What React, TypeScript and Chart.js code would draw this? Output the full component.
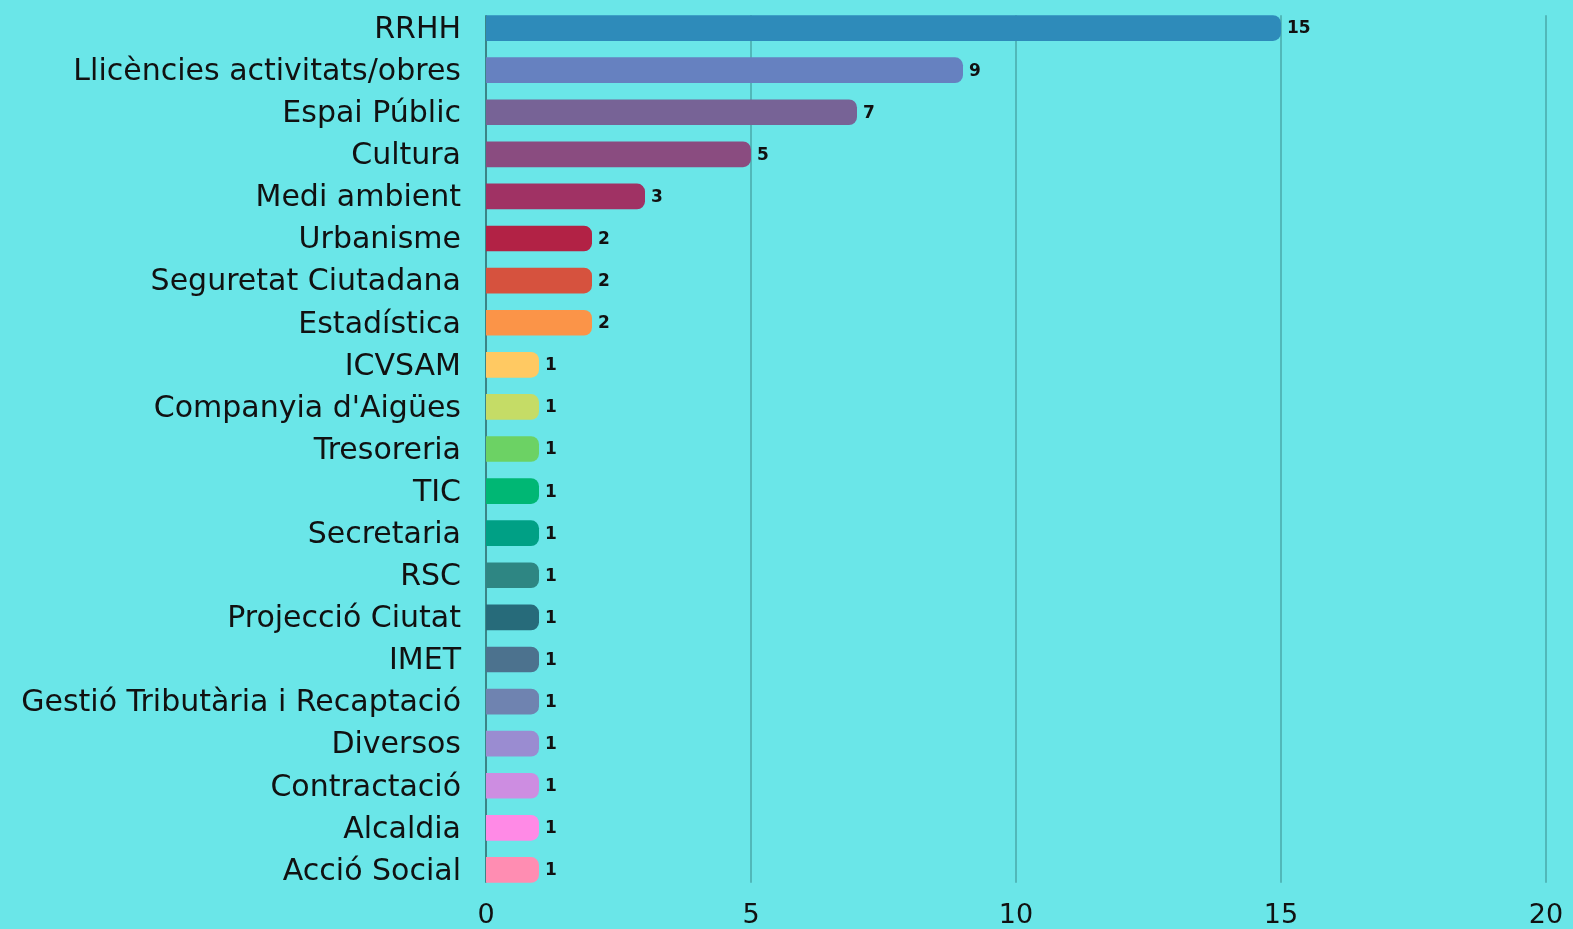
import React, { useEffect, useRef } from "react";
import { Chart, registerables } from "chart.js";

Chart.register(...registerables);

const categories = [
  "RRHH",
  "Llicències activitats/obres",
  "Espai Públic",
  "Cultura",
  "Medi ambient",
  "Urbanisme",
  "Seguretat Ciutadana",
  "Estadística",
  "ICVSAM",
  "Companyia d'Aigües",
  "Tresoreria",
  "TIC",
  "Secretaria",
  "RSC",
  "Projecció Ciutat",
  "IMET",
  "Gestió Tributària i Recaptació",
  "Diversos",
  "Contractació",
  "Alcaldia",
  "Acció Social",
];

const values = [15, 9, 7, 5, 3, 2, 2, 2, 1, 1, 1, 1, 1, 1, 1, 1, 1, 1, 1, 1, 1];

const barColors = [
  "#2E8BBA",
  "#6681C0",
  "#776396",
  "#8A4C80",
  "#A03264",
  "#B22245",
  "#D6523E",
  "#FB9448",
  "#FFC962",
  "#C5DC66",
  "#6CD264",
  "#00B774",
  "#00A085",
  "#2E8683",
  "#276B7A",
  "#4C728E",
  "#6F83B0",
  "#9A8CD1",
  "#CD8DE1",
  "#FF8AE6",
  "#FF8DB2",
];

const xTicks = [0, 5, 10, 15, 20];

const FONT = "'DejaVu Sans', sans-serif";

const overlayPlugin = {
  id: "overlay",
  beforeDatasetsDraw(chart: any) {
    const ctx = chart.ctx;
    const xs = chart.scales.x;
    const meta = chart.getDatasetMeta(0);
    const first = meta.data[0];
    const last = meta.data[meta.data.length - 1];
    const top = first.y - first.height / 2;
    const bottom = last.y + last.height / 2;
    ctx.save();
    xTicks.forEach((v) => {
      const x = xs.getPixelForValue(v);
      ctx.beginPath();
      ctx.lineWidth = 1.5;
      ctx.strokeStyle = v === 0 ? "#2c6467" : "#4aa8aa";
      ctx.moveTo(x, top);
      ctx.lineTo(x, bottom);
      ctx.stroke();
    });
    ctx.restore();
  },
  afterDatasetsDraw(chart: any) {
    const ctx = chart.ctx;
    const meta = chart.getDatasetMeta(0);
    ctx.save();
    ctx.font = `bold 17px ${FONT}`;
    ctx.fillStyle = "#111111";
    ctx.textAlign = "left";
    ctx.textBaseline = "middle";
    meta.data.forEach((bar: any, i: number) => {
      ctx.fillText(String(values[i]), bar.x + 6, bar.y + 1);
    });
    ctx.restore();
  },
};

export default function App() {
  const ref = useRef<HTMLCanvasElement | null>(null);

  useEffect(() => {
    document.body.style.margin = "0";
    document.body.style.background = "#6AE6E8";
    if (!ref.current) return;
    const chart = new Chart(ref.current, {
      type: "bar",
      data: {
        labels: categories,
        datasets: [
          {
            data: values,
            backgroundColor: barColors,
            borderRadius: 8,
            borderSkipped: "start",
            barPercentage: 0.61,
            categoryPercentage: 1,
          },
        ],
      },
      options: {
        indexAxis: "y",
        animation: false,
        responsive: false,
        maintainAspectRatio: false,
        layout: { padding: { top: 7, right: 27, left: 0, bottom: 0 } },
        plugins: {
          legend: { display: false },
          tooltip: { enabled: false },
        },
        scales: {
          x: {
            min: 0,
            max: 20,
            ticks: {
              stepSize: 5,
              color: "#111111",
              font: { family: FONT, size: 27 },
              padding: 9,
            },
            grid: { display: false, drawTicks: false },
            border: { display: false },
            afterFit(scale: any) {
              scale.height = 38;
              scale.paddingLeft = 0;
              scale.paddingRight = 0;
            },
          },
          y: {
            ticks: {
              color: "#111111",
              font: { family: FONT, size: 30 },
              padding: 25,
              labelOffset: 2,
              autoSkip: false,
            },
            grid: { display: false, drawTicks: false },
            border: { display: false },
            afterFit(scale: any) {
              scale.width = 486;
              scale.paddingTop = 0;
              scale.paddingBottom = 0;
            },
          },
        },
      },
      plugins: [overlayPlugin],
    });
    return () => chart.destroy();
  }, []);

  return (
    <div style={{ width: 1573, height: 929, background: "#6AE6E8" }}>
      <canvas ref={ref} width={1573} height={929} style={{ display: "block" }} />
    </div>
  );
}
